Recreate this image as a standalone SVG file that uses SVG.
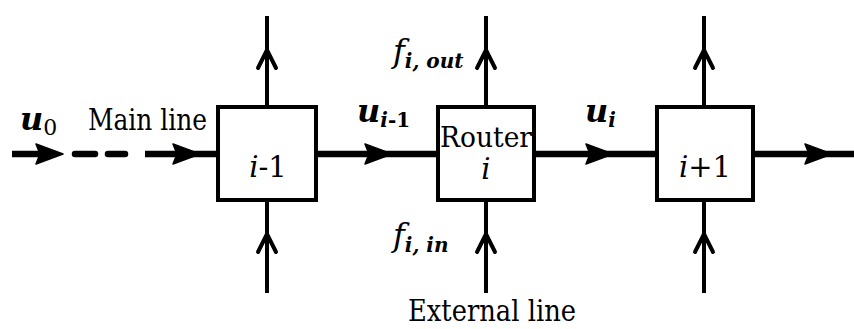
<svg xmlns="http://www.w3.org/2000/svg" xmlns:xlink="http://www.w3.org/1999/xlink" width="854" height="329" viewBox="0 0 854 329">
<style>
.box{fill:#fff;stroke:#000;stroke-width:4}
.main{stroke:#000;stroke-width:6.5;fill:none}
.ext{stroke:#000;stroke-width:4;fill:none}
.oh{stroke:#000;stroke-width:4;fill:none;stroke-linecap:round;stroke-linejoin:miter}
.fh{fill:#000;stroke:#000;stroke-width:1.5;stroke-linejoin:round}
text{font-family:'DejaVu Serif','Liberation Serif','Noto Serif',serif;fill:#000}
.lbl{font-size:29px}
.it{font-style:italic}
.bi{font-style:italic;font-weight:bold}
</style>
<defs>
<path id="openUp" class="oh" d="M-9,18 L0,0 L9,18"/>
<path id="fillRight" class="fh" d="M0,-10 L27,0 L0,10 L4,0 Z"/>
</defs>
<g id="connectors">
<line class="main" x1="12" y1="154" x2="40" y2="154"/>
<use xlink:href="#fillRight" x="36" y="154"/>
<line class="main" x1="75" y1="154" x2="95" y2="154" stroke-linecap="round"/>
<line class="main" x1="108" y1="154" x2="125" y2="154" stroke-linecap="round"/>
<line class="main" x1="145" y1="154" x2="217" y2="154"/>
<use xlink:href="#fillRight" x="173" y="154"/>
<line class="main" x1="317" y1="154" x2="437" y2="154"/>
<use xlink:href="#fillRight" x="365" y="154"/>
<line class="main" x1="535" y1="154" x2="656" y2="154"/>
<use xlink:href="#fillRight" x="586" y="154"/>
<line class="main" x1="754" y1="154" x2="854" y2="154"/>
<use xlink:href="#fillRight" x="805" y="154"/>
<line class="ext" x1="267" y1="16" x2="267" y2="106"/>
<use xlink:href="#openUp" x="267" y="50"/>
<line class="ext" x1="267" y1="200" x2="267" y2="293"/>
<use xlink:href="#openUp" x="267" y="234"/>
<line class="ext" x1="486" y1="16" x2="486" y2="106"/>
<use xlink:href="#openUp" x="486" y="50"/>
<line class="ext" x1="486" y1="200" x2="486" y2="293"/>
<use xlink:href="#openUp" x="486" y="234"/>
<line class="ext" x1="704" y1="16" x2="704" y2="106"/>
<use xlink:href="#openUp" x="704" y="50"/>
<line class="ext" x1="704" y1="200" x2="704" y2="293"/>
<use xlink:href="#openUp" x="704" y="234"/>
</g>
<g id="node-i-1">
<rect class="box" x="218" y="107" width="98" height="93"/>
<text class="lbl" x="268" y="177" text-anchor="middle"><tspan class="it">i</tspan>-1</text>
</g>
<g id="node-router">
<rect class="box" x="438" y="107" width="96" height="93"/>
<text x="486" y="147" text-anchor="middle" font-size="28" textLength="92" lengthAdjust="spacingAndGlyphs">Router</text>
<text class="it" x="486" y="179" text-anchor="middle" font-size="29">i</text>
</g>
<g id="node-i+1">
<rect class="box" x="657" y="107" width="96" height="93"/>
<text class="lbl" x="705" y="177" text-anchor="middle"><tspan class="it">i</tspan>+1</text>
</g>
<g id="labels">
<text x="20" y="130"><tspan class="bi" font-size="32">u</tspan><tspan font-size="22" dy="5">0</tspan></text>
<text class="lbl" x="88" y="130" textLength="119" lengthAdjust="spacingAndGlyphs">Main line</text>
<text x="393" y="62"><tspan class="it" font-size="32">f</tspan><tspan class="bi" font-size="20" dy="6">i, out</tspan></text>
<text x="357" y="122"><tspan class="bi" font-size="32">u</tspan><tspan class="bi" font-size="20" dy="5">i</tspan><tspan font-size="20" font-weight="bold">-1</tspan></text>
<text x="585" y="122"><tspan class="bi" font-size="32">u</tspan><tspan class="bi" font-size="20" dy="5">i</tspan></text>
<text x="393" y="246"><tspan class="it" font-size="32">f</tspan><tspan class="bi" font-size="20" dy="6">i, in</tspan></text>
<text class="lbl" x="408" y="321" textLength="168" lengthAdjust="spacingAndGlyphs">External line</text>
</g>
</svg>
